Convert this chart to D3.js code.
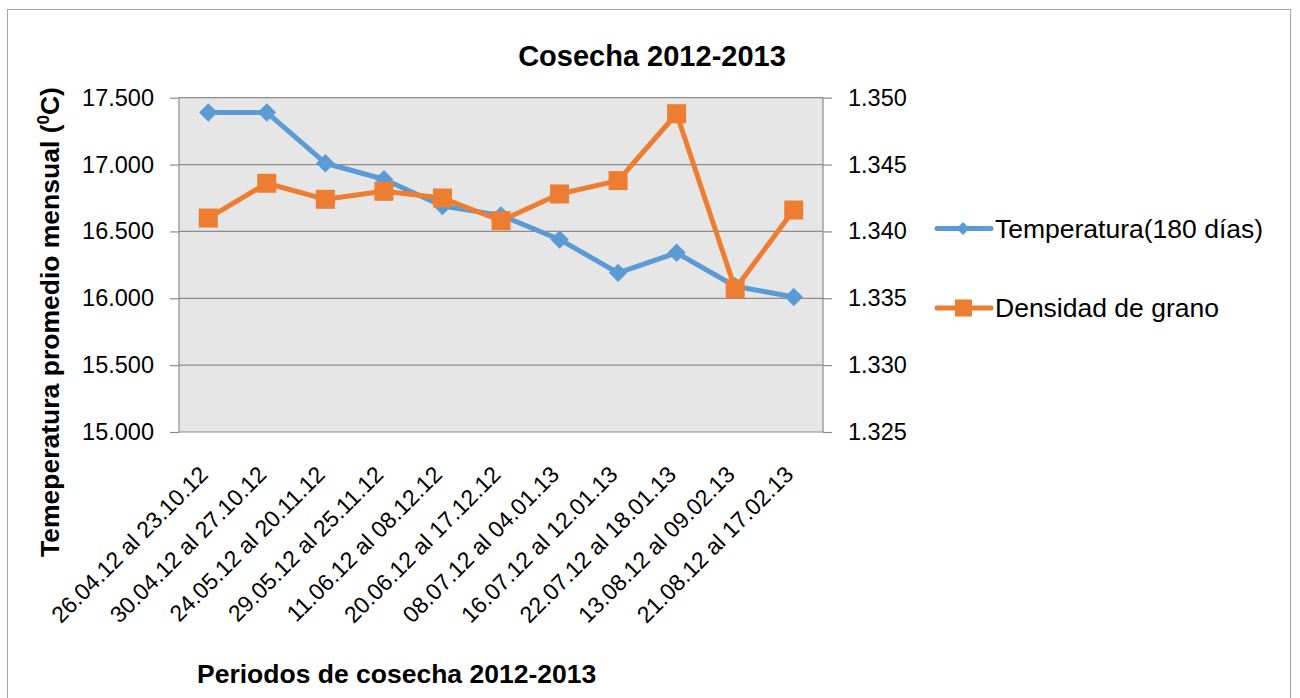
<!DOCTYPE html>
<html><head><meta charset="utf-8">
<script src="https://cdn.jsdelivr.net/npm/d3@7"></script>
<style>body{margin:0;background:#fff;} svg{display:block;font-family:"Liberation Sans",Arial,sans-serif;}</style>
</head><body>
<svg id="c" width="1300" height="698"></svg>
<script>
const categories = ["26.04.12 al 23.10.12","30.04.12 al 27.10.12","24.05.12 al 20.11.12","29.05.12 al 25.11.12","11.06.12 al 08.12.12","20.06.12 al 17.12.12","08.07.12 al 04.01.13","16.07.12 al 12.01.13","22.07.12 al 18.01.13","13.08.12 al 09.02.13","21.08.12 al 17.02.13"];
const temperatura = [17.39,17.39,17.01,16.89,16.69,16.62,16.44,16.19,16.34,16.09,16.01];
const densidad = [1.3410,1.3436,1.3424,1.3430,1.3425,1.3408,1.3428,1.3438,1.3488,1.3357,1.3416];
const leftTicks = [15.0,15.5,16.0,16.5,17.0,17.5];
const rightTicks = [1.325,1.330,1.335,1.340,1.345,1.350];
const seriesNames = ["Temperatura(180 días)","Densidad de grano"];

const svg = d3.select("#c");
const blue = "#5B9BD5", orange = "#ED7D31";
const L = 179, R = 823, T = 97.7, B = 432;
const FONT = "Liberation Sans, Arial, sans-serif";

svg.append("rect").attr("x",7.5).attr("y",9.5).attr("width",1283).attr("height",700)
  .attr("fill","#fff").attr("stroke","#A6A6A6").attr("stroke-width",1);

const x = d3.scaleBand().domain(categories).range([L,R]);
const yL = d3.scaleLinear().domain([15,17.5]).range([B,T]);
const yR = d3.scaleLinear().domain([1.325,1.350]).range([B,T]);

svg.append("rect").attr("x",L).attr("y",T).attr("width",R-L).attr("height",B-T).attr("fill","#E6E6E6");

// left axis (thousands style label: 17.500)
const gl = svg.append("g").attr("transform",`translate(${L},0)`)
  .call(d3.axisLeft(yL).tickValues(leftTicks).tickSize(9).tickPadding(16)
    .tickFormat(v => { const i = Math.floor(v); const f = Math.round((v-i)*1000); return i + "." + String(f).padStart(3,"0"); }));
// right axis
const gr = svg.append("g").attr("transform",`translate(${R},0)`)
  .call(d3.axisRight(yR).tickValues(rightTicks).tickSize(9).tickPadding(16).tickFormat(d3.format(".3f")));
[gl,gr].forEach(g=>{
  g.select(".domain").remove();
  g.selectAll("line").attr("stroke","#8C8C8C").attr("stroke-width",1.2);
  g.selectAll("text").attr("font-size",23.5).attr("fill","#000").attr("font-family",FONT);
});
// gridlines
svg.append("g").selectAll("line").data(leftTicks).join("line")
  .attr("x1",L).attr("x2",R).attr("y1",d=>yL(d)).attr("y2",d=>yL(d))
  .attr("stroke","#8C8C8C").attr("stroke-width",1.2);
svg.append("line").attr("x1",L).attr("x2",L).attr("y1",T).attr("y2",B).attr("stroke","#8C8C8C").attr("stroke-width",1.2);
svg.append("line").attr("x1",R).attr("x2",R).attr("y1",T).attr("y2",B).attr("stroke","#8C8C8C").attr("stroke-width",1.2);

// x labels
const gx = svg.append("g").attr("transform",`translate(0,${B})`)
  .call(d3.axisBottom(x).tickSize(0).tickPadding(0));
gx.select(".domain").remove();
gx.selectAll("text")
  .attr("font-size",23).attr("fill","#000").attr("font-family",FONT)
  .attr("text-anchor","end").attr("dy",0).attr("y",0)
  .attr("transform","translate(1,44) rotate(-45)");

const cx = d => x(d) + x.bandwidth()/2;

// lines
const lineT = d3.line().x((d,i)=>cx(categories[i])).y(d=>yL(d));
const lineD = d3.line().x((d,i)=>cx(categories[i])).y(d=>yR(d));
svg.append("path").datum(temperatura).attr("d",lineT).attr("fill","none").attr("stroke",blue).attr("stroke-width",5).attr("stroke-linejoin","round");
const diamond = d3.symbol().type(d3.symbolSquare).size(170);
svg.append("g").selectAll("path").data(temperatura).join("path")
  .attr("d",diamond()).attr("fill",blue)
  .attr("transform",(d,i)=>`translate(${cx(categories[i])},${yL(d)}) rotate(45)`);
svg.append("path").datum(densidad).attr("d",lineD).attr("fill","none").attr("stroke",orange).attr("stroke-width",5).attr("stroke-linejoin","round");
svg.append("g").selectAll("rect").data(densidad).join("rect")
  .attr("x",(d,i)=>cx(categories[i])-9.5).attr("y",d=>yR(d)-9.5)
  .attr("width",19).attr("height",19).attr("fill",orange);

// title
svg.append("text").attr("x",652).attr("y",66).attr("text-anchor","middle")
  .attr("font-size",29).attr("font-weight","bold").text("Cosecha 2012-2013");

// left axis title
const yt = svg.append("text").attr("transform","translate(59,322) rotate(-90)").attr("text-anchor","middle")
  .attr("font-size",26.5).attr("font-weight","bold");
yt.append("tspan").text("Temeperatura promedio mensual (");
yt.append("tspan").attr("dy",-10).attr("font-size",17).text("0");
yt.append("tspan").attr("dy",10).text("C)");

// x axis title
svg.append("text").attr("x",197).attr("y",683).attr("font-size",26.5).attr("font-weight","bold")
  .text("Periodos de cosecha 2012-2013");

// legend
const leg = [{name:seriesNames[0],color:blue,y:228.5,shape:"d"},{name:seriesNames[1],color:orange,y:308,shape:"s"}];
leg.forEach(l=>{
  svg.append("line").attr("x1",937).attr("x2",991).attr("y1",l.y).attr("y2",l.y).attr("stroke",l.color).attr("stroke-width",5).attr("stroke-linecap","round");
  if(l.shape==="d") svg.append("path").attr("d",d3.symbol().type(d3.symbolSquare).size(85)()).attr("fill",l.color).attr("transform",`translate(963,${l.y}) rotate(45)`);
  else svg.append("rect").attr("x",955).attr("y",l.y-8.5).attr("width",17).attr("height",17).attr("fill",l.color);
  svg.append("text").attr("x",995).attr("y",l.y+9).attr("font-size",26.5).text(l.name);
});
</script>
</body></html>
